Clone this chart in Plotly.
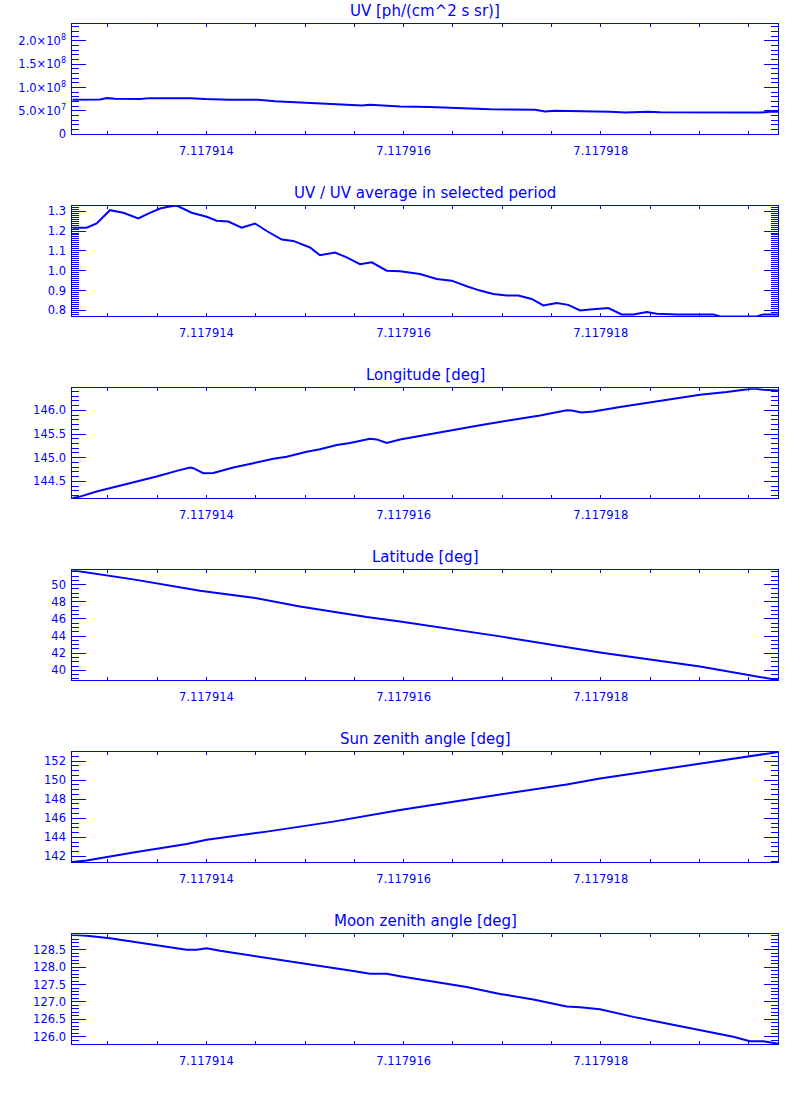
import plotly.graph_objects as go

BLUE = "#0000FF"
FONT = "DejaVu Sans"

# ---------------- data ----------------
x_range = [7.11791264, 7.11791980]

t_uv = [7.117912640, 7.117912921, 7.117912992, 7.117913073, 7.117913327, 7.117913428,
        7.117913834, 7.117913986, 7.117914239, 7.117914523, 7.117914696, 7.117914949,
        7.117915254, 7.117915477, 7.117915578, 7.117915659, 7.117915761, 7.117915964,
        7.117916268, 7.117916572, 7.117916877, 7.117917333, 7.117917434, 7.117917536,
        7.117917739, 7.117918093, 7.117918246, 7.117918398, 7.117918479, 7.117918600,
        7.117919615, 7.117919716, 7.117919800]
uv = [7.41e7, 7.45e7, 7.75e7, 7.60e7, 7.55e7, 7.75e7,
      7.75e7, 7.55e7, 7.42e7, 7.38e7, 7.10e7, 6.85e7,
      6.55e7, 6.30e7, 6.15e7, 6.33e7, 6.20e7, 5.95e7,
      5.85e7, 5.60e7, 5.35e7, 5.25e7, 4.90e7, 5.05e7,
      5.00e7, 4.85e7, 4.65e7, 4.70e7, 4.85e7, 4.70e7,
      4.65e7, 4.85e7, 4.85e7]

t_ratio = [7.117912640, 7.117912786, 7.117912887, 7.117912954, 7.117913022, 7.117913157,
           7.117913309, 7.117913411, 7.117913529, 7.117913614, 7.117913699, 7.117913851,
           7.117914003, 7.117914104, 7.117914222, 7.117914358, 7.117914493, 7.117914612,
           7.117914764, 7.117914881, 7.117915051, 7.117915152, 7.117915304, 7.117915423,
           7.117915558, 7.117915677, 7.117915829, 7.117915964, 7.117916166, 7.117916336,
           7.117916488, 7.117916640, 7.117916775, 7.117916910, 7.117917046, 7.117917163,
           7.117917299, 7.117917417, 7.117917553, 7.117917670, 7.117917789, 7.117917891,
           7.117918076, 7.117918212, 7.117918330, 7.117918466, 7.117918567, 7.117918770,
           7.117919141, 7.117919209, 7.117919581, 7.117919648, 7.117919800]
ratio = [1.217, 1.217, 1.238, 1.272, 1.305, 1.292,
         1.263, 1.288, 1.313, 1.322, 1.328, 1.292,
         1.272, 1.252, 1.248, 1.217, 1.238, 1.200,
         1.157, 1.150, 1.117, 1.078, 1.092, 1.067,
         1.033, 1.042, 1.000, 0.997, 0.983, 0.958,
         0.950, 0.922, 0.900, 0.883, 0.875, 0.875,
         0.858, 0.825, 0.837, 0.828, 0.800, 0.805,
         0.812, 0.780, 0.780, 0.792, 0.783, 0.780,
         0.780, 0.770, 0.770, 0.780, 0.780]

t_lon = [7.117912640, 7.117912718, 7.117912887, 7.117913090, 7.117913293, 7.117913496,
         7.117913699, 7.117913834, 7.117913867, 7.117913969, 7.117914070, 7.117914273,
         7.117914476, 7.117914679, 7.117914814, 7.117915017, 7.117915152, 7.117915322,
         7.117915456, 7.117915659, 7.117915727, 7.117915829, 7.117915964, 7.117916234,
         7.117916504, 7.117916775, 7.117917079, 7.117917384, 7.117917654, 7.117917705,
         7.117917806, 7.117917924, 7.117918195, 7.117918466, 7.117918735, 7.117919006,
         7.117919277, 7.117919547, 7.117919648, 7.117919800]
lon = [144.150, 144.180, 144.290, 144.395, 144.486, 144.605,
       144.723, 144.793, 144.780, 144.674, 144.680, 144.793,
       144.884, 144.980, 145.023, 145.128, 145.177, 145.267,
       145.310, 145.400, 145.386, 145.310, 145.386, 145.490,
       145.581, 145.686, 145.790, 145.888, 146.000, 145.993,
       145.951, 145.972, 146.070, 146.153, 146.244, 146.328,
       146.384, 146.460, 146.433, 146.419]

t_lat = [7.117912640, 7.117913259, 7.117913935, 7.117914476, 7.117914949, 7.117915626,
         7.117915964, 7.117916978, 7.117917992, 7.117919006, 7.117919800]
lat = [51.68, 50.62, 49.30, 48.49, 47.45, 46.22,
       45.71, 43.97, 42.08, 40.45, 38.86]

t_sun = [7.117912640, 7.117912786, 7.117913259, 7.117913800, 7.117914003, 7.117914612,
         7.117915287, 7.117915964, 7.117916978, 7.117917654, 7.117917992, 7.117919006,
         7.117919733, 7.117919800]
sun = [141.40, 141.58, 142.42, 143.29, 143.74, 144.60,
       145.65, 146.86, 148.50, 149.54, 150.17, 151.73,
       152.87, 152.96]

t_moon = [7.117912640, 7.117912786, 7.117913022, 7.117913259, 7.117913529, 7.117913800,
          7.117913902, 7.117914003, 7.117914138, 7.117914476, 7.117914814, 7.117915152,
          7.117915490, 7.117915659, 7.117915829, 7.117915964, 7.117916301, 7.117916640,
          7.117916978, 7.117917316, 7.117917654, 7.117917789, 7.117917992, 7.117918330,
          7.117918668, 7.117919006, 7.117919344, 7.117919513, 7.117919648, 7.117919800]
moon = [128.93, 128.90, 128.83, 128.73, 128.61, 128.50,
        128.50, 128.54, 128.47, 128.33, 128.18, 128.04,
        127.89, 127.81, 127.81, 127.74, 127.59, 127.43,
        127.23, 127.07, 126.87, 126.85, 126.79, 126.57,
        126.38, 126.19, 126.00, 125.87, 125.87, 125.80]

titles = ["UV [ph/(cm^2 s sr)]", "UV / UV average in selected period",
          "Longitude [deg]", "Latitude [deg]", "Sun zenith angle [deg]",
          "Moon zenith angle [deg]"]

x_major = [7.117914, 7.117916, 7.117918]
x_major_text = ["7.117914", "7.117916", "7.117918"]

uv_tickvals = [0, 5e7, 1e8, 1.5e8, 2e8]
uv_ticktext = ["0", "5.0×10<sup>7</sup>", "1.0×10<sup>8</sup>",
               "1.5×10<sup>8</sup>", "2.0×10<sup>8</sup>"]

# ---------------- layout / styling ----------------
series = [(t_uv, uv), (t_ratio, ratio), (t_lon, lon), (t_lat, lat), (t_sun, sun), (t_moon, moon)]
y_ranges = [[0, 2.355e8], [0.770, 1.3285], [144.144, 146.466], [38.84, 51.70],
            [141.37, 152.98], [125.78, 128.94]]
y_major = [None, 0.1, 0.5, 2, 2, 0.5]
y_minor = [1e7, 0.01, 0.1, 0.5, 0.5, 0.1]
y_fmt = [None, ".1f", ".1f", "d", "d", ".1f"]
y_tick0 = [0, 0.8, 144.5, 40, 142, 126.0]

W, H = 800, 1100
left_px, right_px = 72.3, 778.3
tops = [23.5, 206.0, 390.0, 573.3, 756.3, 940.3]
heights = [110.8, 111.7, 111.0, 111.0, 111.4, 110.7]

fig = go.Figure()
annotations = []
for i, (t, y) in enumerate(series):
    n = "" if i == 0 else str(i + 1)
    fig.add_trace(go.Scatter(x=t, y=y, mode="lines", xaxis="x" + n, yaxis="y" + n,
                             line=dict(color=BLUE, width=2), showlegend=False,
                             hoverinfo="skip"))
    top = tops[i]
    bot = top + heights[i]
    ydom = [1 - bot / H, 1 - top / H]
    xax = dict(domain=[left_px / W, right_px / W], anchor="y" + n, range=x_range,
               showline=True, linecolor=BLUE, linewidth=1, mirror="allticks",
               ticks="inside", ticklen=3, tickcolor=BLUE, tickwidth=1,
               tickmode="array", tickvals=x_major, ticktext=x_major_text,
               showgrid=False, zeroline=False,
               tickfont=dict(family=FONT, size=11.5, color=BLUE),
               ticklabelstandoff=6,
               minor=dict(ticks="inside", ticklen=3, tickcolor=BLUE, tickwidth=1,
                          tickmode="linear", tick0=7.117914, dtick=0.5e-6, showgrid=False))
    yax = dict(domain=ydom, anchor="x" + n, range=y_ranges[i],
               showline=True, linecolor=BLUE, linewidth=1, mirror="allticks",
               ticks="inside", ticklen=14, tickcolor=BLUE, tickwidth=1,
               showgrid=False, zeroline=False,
               tickfont=dict(family=FONT, size=11.5, color=BLUE),
               ticklabelstandoff=3,
               minor=dict(ticks="inside", ticklen=7, tickcolor=BLUE, tickwidth=1,
                          tickmode="linear", tick0=y_tick0[i], dtick=y_minor[i],
                          showgrid=False))
    if i == 0:
        yax.update(tickmode="array", tickvals=uv_tickvals, ticktext=uv_ticktext)
    else:
        yax.update(tickmode="linear", tick0=y_tick0[i], dtick=y_major[i],
                   tickformat=y_fmt[i])
    fig.layout["xaxis" + n] = xax
    fig.layout["yaxis" + n] = yax
    annotations.append(dict(text=titles[i], x=(left_px + right_px) / 2 / W, y=1 - top / H,
                            xref="paper", yref="paper", xanchor="center", yanchor="bottom",
                            yshift=2, showarrow=False,
                            font=dict(family=FONT, size=15, color=BLUE)))

fig.update_layout(width=W, height=H, margin=dict(l=0, r=0, t=0, b=0),
                  paper_bgcolor="white", plot_bgcolor="white",
                  annotations=annotations, showlegend=False)

# remove the browser's default page margin so the figure fills the window exactly
fig.write_html("out.html", config={"displayModeBar": False, "staticPlot": True},
               post_script="document.body.style.margin='0';")
